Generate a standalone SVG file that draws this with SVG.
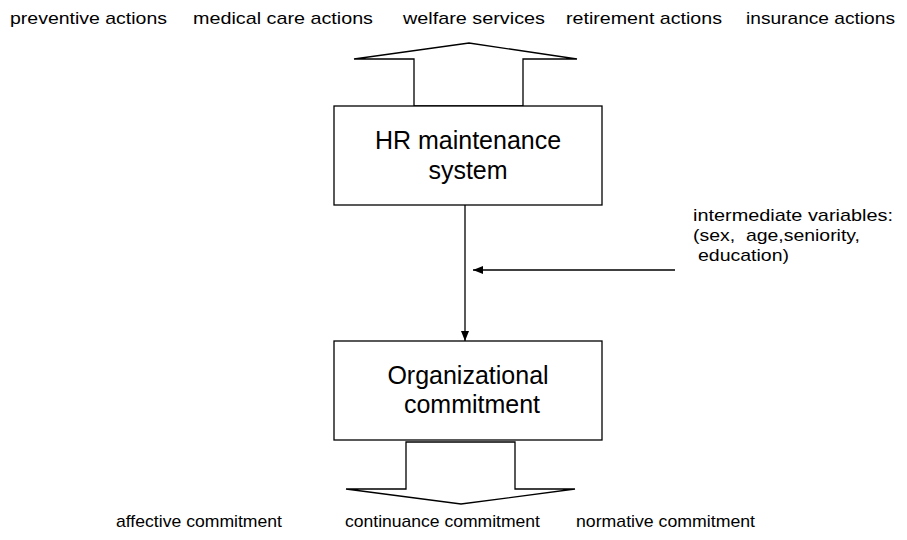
<svg xmlns="http://www.w3.org/2000/svg" width="907" height="540" viewBox="0 0 907 540">
<style>
.box{fill:#fff;stroke:#000;stroke-width:1.3}
.arr{fill:#fff;stroke:#000;stroke-width:1.3;stroke-linejoin:miter}
.big{font-family:"Liberation Sans",Arial,sans-serif;font-size:25px;fill:#000;text-anchor:middle}
.lbl{font-family:"Liberation Sans",Arial,sans-serif;font-size:17px;fill:#000}
.con{stroke:#000;stroke-width:1.3;fill:none}
</style>
<defs>
<marker id="ah" markerWidth="10" markerHeight="8" refX="10" refY="4" orient="auto" markerUnits="userSpaceOnUse">
<path d="M0,0 L10,4 L0,8 Z" fill="#000"/>
</marker>
</defs>
<g id="top-labels">
<text class="lbl" x="10" y="24" textLength="157" lengthAdjust="spacingAndGlyphs">preventive actions</text>
<text class="lbl" x="193" y="24" textLength="180" lengthAdjust="spacingAndGlyphs">medical care actions</text>
<text class="lbl" x="403" y="24" textLength="142" lengthAdjust="spacingAndGlyphs">welfare services</text>
<text class="lbl" x="566" y="24" textLength="156" lengthAdjust="spacingAndGlyphs">retirement actions</text>
<text class="lbl" x="746" y="24" textLength="149" lengthAdjust="spacingAndGlyphs">insurance actions</text>
</g>
<g id="up-arrow">
<polygon class="arr" points="414,106 414,59 354,59 469,43 577,59 523,59 523,106"/>
</g>
<g id="hr-system">
<rect class="box" x="334" y="106" width="268" height="99"/>
<text class="big" x="468" y="149">HR maintenance</text>
<text class="big" x="468" y="179">system</text>
</g>
<g id="intermediate">
<text class="lbl" x="693" y="221" textLength="200" lengthAdjust="spacingAndGlyphs">intermediate variables:</text>
<text class="lbl" x="693" y="241" textLength="167" lengthAdjust="spacingAndGlyphs" xml:space="preserve">(sex,  age,seniority,</text>
<text class="lbl" x="698" y="261" textLength="91" lengthAdjust="spacingAndGlyphs">education)</text>
</g>
<g id="connectors">
<line class="con" x1="465" y1="205" x2="465" y2="341" marker-end="url(#ah)"/>
<line class="con" x1="675" y1="270" x2="473" y2="270" marker-end="url(#ah)"/>
</g>
<g id="org-commitment">
<rect class="box" x="334" y="341" width="268" height="99"/>
<text class="big" x="468" y="384">Organizational</text>
<text class="big" x="472" y="413">commitment</text>
</g>
<g id="down-arrow">
<polygon class="arr" points="406,442 515,442 515,489 575,489 461,504 346,489 406,489"/>
</g>
<g id="bottom-labels">
<text class="lbl" x="116" y="527" textLength="166" lengthAdjust="spacingAndGlyphs">affective commitment</text>
<text class="lbl" x="345" y="527" textLength="195" lengthAdjust="spacingAndGlyphs">continuance commitment</text>
<text class="lbl" x="576" y="527" textLength="179" lengthAdjust="spacingAndGlyphs">normative commitment</text>
</g>
</svg>
